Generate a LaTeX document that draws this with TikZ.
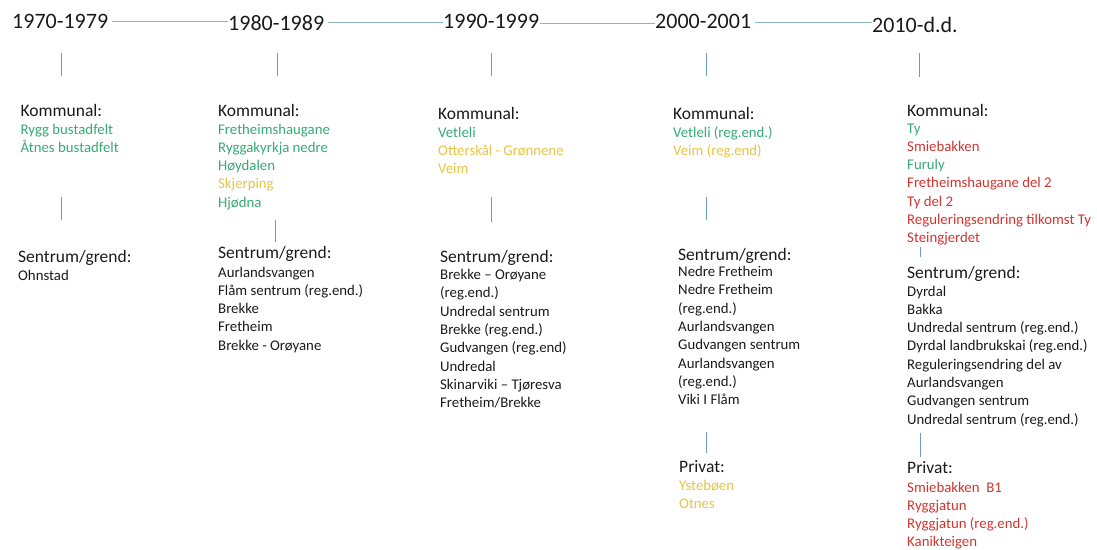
\documentclass[tikz,border=0pt]{standalone}
\usepackage{fontspec}
\setmainfont{Carlito}
\usepackage{xcolor}
\usepackage{tikz}

\definecolor{kgreen}{HTML}{36A975}
\definecolor{kyellow}{HTML}{E6C444}
\definecolor{kred}{HTML}{D2342E}
\definecolor{ktext}{HTML}{1A1A1A}
\definecolor{klink}{HTML}{8DB3C7}
\definecolor{ktick}{HTML}{6E9CBE}

\tikzset{
  year/.style={anchor=base west, inner sep=0pt, font=\fontsize{22}{26}\selectfont, text=ktext},
  head/.style={anchor=base west, inner sep=0pt, font=\fontsize{17.5}{21}\selectfont, text=ktext},
  entry/.style={anchor=base west, inner sep=0pt, font=\fontsize{14.8}{18}\selectfont},
  link/.style={draw=klink, line width=0.8pt},
  tickline/.style={draw=ktick, line width=0.9pt}
}

% one column block: name, x, first baseline, colour/text items
\newcommand{\entrylist}[4]{%
  \foreach \c/\t [count=\i from 0] in {#4}
    \node[entry, text=\c] (#1-\i) at (#2, #3+18.3*\i) {\t};
}

\begin{document}
\begin{tikzpicture}[x=1pt, y=-1pt]
    \useasboundingbox (0,0) rectangle (1097,549);

    % time line
    \node[year] (y70) at (12,28.5) {1970-1979};
    \node[year] (y80) at (228,30) {1980-1989};
    \node[year] (y90) at (443,28.5) {1990-1999};
    \node[year] (y00) at (655,28.5) {2000-2001};
    \node[year] (y10) at (872,32) {2010-d.d.};
    \draw[link, shorten <=4pt] (y70.east |- 0,21) -- (y80.west |- 0,21);
    \draw[link, shorten <=4pt] (y80.east |- 0,22.5) -- (y90.west |- 0,22.5);
    \draw[link, shorten <=1pt] (y90.east |- 0,23) -- (y00.west |- 0,23);
    \draw[link, shorten <=4pt] (y00.east |- 0,22.5) -- (y10.west |- 0,22.5);

    % small ticks
    \foreach \n/\x/\ya/\yb in {1/61/53/76, 2/277/53/76, 3/491/53/76, 4/706/53/76, 5/919/53/77,
                               6/61/197/220, 7/275/220/242, 8/491/197/222, 9/706/197/220, 10/920/247/257,
                               11/706/432/453, 12/920/433/457}
        \draw[tickline] (\x,\ya) coordinate (tk\n a) -- (\x,\yb) coordinate (tk\n b);

    % 1970-1979
    \node[head] (k70) at (20.5,116) {Kommunal:};
    \entrylist{k70}{20.5}{134}{kgreen/Rygg bustadfelt, kgreen/Åtnes bustadfelt}
    \node[head] (s70) at (18,262) {Sentrum/grend:};
    \entrylist{s70}{18}{280}{ktext/Ohnstad}

    % 1980-1989
    \node[head] (k80) at (218,116) {Kommunal:};
    \entrylist{k80}{218}{134}{kgreen/Fretheimshaugane, kgreen/Ryggakyrkja nedre, kgreen/Høydalen,
        kyellow/Skjerping, kgreen/Hjødna}
    \node[head] (s80) at (218,258) {Sentrum/grend:};
    \entrylist{s80}{218}{277}{ktext/Aurlandsvangen, ktext/Flåm sentrum (reg.end.), ktext/Brekke,
        ktext/Fretheim, ktext/Brekke - Orøyane}

    % 1990-1999
    \node[head] (k90) at (438,119) {Kommunal:};
    \entrylist{k90}{438}{137}{kgreen/Vetleli, kyellow/Otterskål - Grønnene, kyellow/Veim}
    \node[head] (s90) at (440,262) {Sentrum/grend:};
    \entrylist{s90}{440}{279.5}{ktext/Brekke – Orøyane, ktext/(reg.end.), ktext/Undredal sentrum,
        ktext/Brekke (reg.end.), ktext/Gudvangen (reg.end), ktext/Undredal,
        ktext/Skinarviki – Tjøresva, ktext/{Fretheim/Brekke}}

    % 2000-2001
    \node[head] (k00) at (673,119) {Kommunal:};
    \entrylist{k00}{673}{137}{kgreen/Vetleli (reg.end.), kyellow/Veim (reg.end)}
    \node[head] (s00) at (678,260) {Sentrum/grend:};
    \entrylist{s00}{678}{276.5}{ktext/Nedre Fretheim, ktext/Nedre Fretheim, ktext/(reg.end.),
        ktext/Aurlandsvangen, ktext/Gudvangen sentrum, ktext/Aurlandsvangen, ktext/(reg.end.),
        ktext/Viki I Flåm}
    \node[head] (p00) at (679,472) {Privat:};
    \entrylist{p00}{679}{490}{kyellow/Ystebøen, kyellow/Otnes}

    % 2010-d.d.
    \node[head] (k10) at (907,116) {Kommunal:};
    \entrylist{k10}{907}{133}{kgreen/Ty, kred/Smiebakken, kgreen/Furuly, kred/Fretheimshaugane del 2,
        kred/Ty del 2, kred/Reguleringsendring tilkomst Ty, kred/Steingjerdet}
    \node[head] (s10) at (907,278) {Sentrum/grend:};
    \entrylist{s10}{907}{296}{ktext/Dyrdal, ktext/Bakka, ktext/Undredal sentrum (reg.end.),
        ktext/Dyrdal landbrukskai (reg.end.), ktext/Reguleringsendring del av, ktext/Aurlandsvangen,
        ktext/Gudvangen sentrum, ktext/Undredal sentrum (reg.end.)}
    \node[head] (p10) at (907,473) {Privat:};
    \entrylist{p10}{907}{492}{kred/Smiebakken\ \ B1, kred/Ryggjatun, kred/Ryggjatun (reg.end.),
        kred/Kanikteigen}
\end{tikzpicture}
\end{document}
